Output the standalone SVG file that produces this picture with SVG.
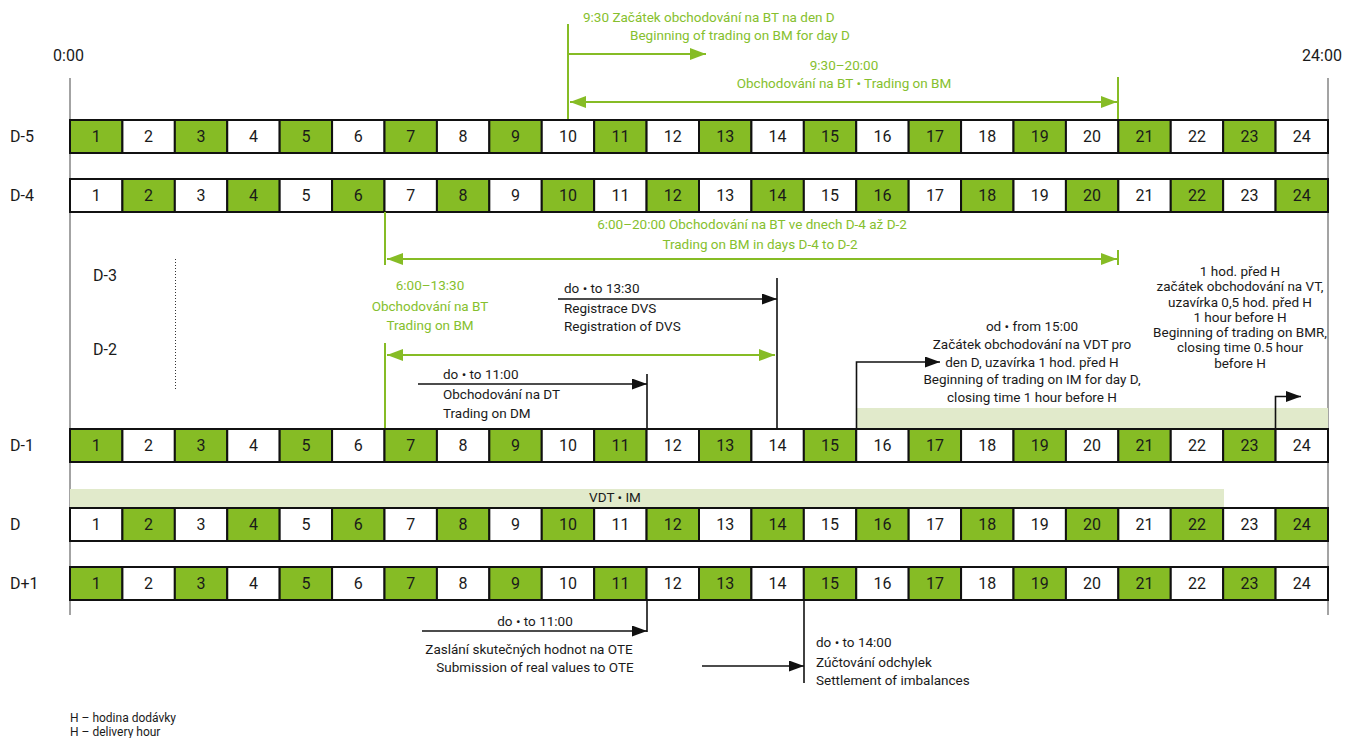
<svg xmlns="http://www.w3.org/2000/svg" width="1348" height="738" viewBox="0 0 1348 738">
<style>
text{font-family:Roboto,"Liberation Sans",sans-serif;fill:#1a1a1a}
.n{font-size:16px;text-anchor:middle}
.lbl{font-size:16px}
.a{font-size:13.5px}
.m{text-anchor:middle}
.gt{fill:#86bf2e}
.cg{fill:#86bc25;stroke:#111;stroke-width:2}
.cw{fill:#fff;stroke:#111;stroke-width:2}
.gl{stroke:#86bc25;stroke-width:2;fill:none}
.bl{stroke:#111;stroke-width:1.6;fill:none}
.ax{stroke:#666;stroke-width:1.2}
</style>
<defs>
<marker id="ag" markerUnits="userSpaceOnUse" markerWidth="18" markerHeight="12" refX="16" refY="6" orient="auto-start-reverse"><path d="M0,0 L16,6 L0,12 Z" fill="#86bc25"/></marker>
<marker id="ab" markerUnits="userSpaceOnUse" markerWidth="17" markerHeight="11" refX="15" refY="5.5" orient="auto-start-reverse"><path d="M0,0 L15,5.5 L0,11 Z" fill="#111"/></marker>
</defs>
<rect width="1348" height="738" fill="#fff"/>
<g id="axes">
<line class="ax" x1="70" y1="78" x2="70" y2="615"/>
<line class="ax" x1="1328" y1="78" x2="1328" y2="615"/>
<line x1="175.5" y1="259" x2="175.5" y2="390" stroke="#333" stroke-width="1" stroke-dasharray="1,2"/>
<text class="lbl m" x="68.5" y="61">0:00</text>
<text class="lbl m" x="1322" y="61">24:00</text>
</g>
<g id="bands">
<rect x="857" y="408" width="471" height="20" fill="#e1eacb"/>
<rect x="70" y="489" width="1154" height="19" fill="#e1eacb"/>
<text class="a m" x="615" y="501.5">VDT • IM</text>
</g>
<g id="row-D-5">
<text class="lbl" x="10" y="142">D-5</text>
<rect class="cg" x="70" y="120" width="52.42" height="33"/><rect class="cw" x="122.42" y="120" width="52.42" height="33"/><rect class="cg" x="174.83" y="120" width="52.42" height="33"/><rect class="cw" x="227.25" y="120" width="52.42" height="33"/><rect class="cg" x="279.67" y="120" width="52.42" height="33"/><rect class="cw" x="332.08" y="120" width="52.42" height="33"/><rect class="cg" x="384.5" y="120" width="52.42" height="33"/><rect class="cw" x="436.92" y="120" width="52.42" height="33"/><rect class="cg" x="489.33" y="120" width="52.42" height="33"/><rect class="cw" x="541.75" y="120" width="52.42" height="33"/><rect class="cg" x="594.17" y="120" width="52.42" height="33"/><rect class="cw" x="646.58" y="120" width="52.42" height="33"/><rect class="cg" x="699" y="120" width="52.42" height="33"/><rect class="cw" x="751.42" y="120" width="52.42" height="33"/><rect class="cg" x="803.83" y="120" width="52.42" height="33"/><rect class="cw" x="856.25" y="120" width="52.42" height="33"/><rect class="cg" x="908.67" y="120" width="52.42" height="33"/><rect class="cw" x="961.08" y="120" width="52.42" height="33"/><rect class="cg" x="1013.5" y="120" width="52.42" height="33"/><rect class="cw" x="1065.92" y="120" width="52.42" height="33"/><rect class="cg" x="1118.33" y="120" width="52.42" height="33"/><rect class="cw" x="1170.75" y="120" width="52.42" height="33"/><rect class="cg" x="1223.17" y="120" width="52.42" height="33"/><rect class="cw" x="1275.58" y="120" width="52.42" height="33"/>
<text class="n" x="96.2" y="142">1</text><text class="n" x="148.6" y="142">2</text><text class="n" x="201" y="142">3</text><text class="n" x="253.5" y="142">4</text><text class="n" x="305.9" y="142">5</text><text class="n" x="358.3" y="142">6</text><text class="n" x="410.7" y="142">7</text><text class="n" x="463.1" y="142">8</text><text class="n" x="515.5" y="142">9</text><text class="n" x="568" y="142">10</text><text class="n" x="620.4" y="142">11</text><text class="n" x="672.8" y="142">12</text><text class="n" x="725.2" y="142">13</text><text class="n" x="777.6" y="142">14</text><text class="n" x="830" y="142">15</text><text class="n" x="882.5" y="142">16</text><text class="n" x="934.9" y="142">17</text><text class="n" x="987.3" y="142">18</text><text class="n" x="1039.7" y="142">19</text><text class="n" x="1092.1" y="142">20</text><text class="n" x="1144.5" y="142">21</text><text class="n" x="1197" y="142">22</text><text class="n" x="1249.4" y="142">23</text><text class="n" x="1301.8" y="142">24</text>
</g>
<g id="row-D-4">
<text class="lbl" x="10" y="201">D-4</text>
<rect class="cw" x="70" y="179" width="52.42" height="33"/><rect class="cg" x="122.42" y="179" width="52.42" height="33"/><rect class="cw" x="174.83" y="179" width="52.42" height="33"/><rect class="cg" x="227.25" y="179" width="52.42" height="33"/><rect class="cw" x="279.67" y="179" width="52.42" height="33"/><rect class="cg" x="332.08" y="179" width="52.42" height="33"/><rect class="cw" x="384.5" y="179" width="52.42" height="33"/><rect class="cg" x="436.92" y="179" width="52.42" height="33"/><rect class="cw" x="489.33" y="179" width="52.42" height="33"/><rect class="cg" x="541.75" y="179" width="52.42" height="33"/><rect class="cw" x="594.17" y="179" width="52.42" height="33"/><rect class="cg" x="646.58" y="179" width="52.42" height="33"/><rect class="cw" x="699" y="179" width="52.42" height="33"/><rect class="cg" x="751.42" y="179" width="52.42" height="33"/><rect class="cw" x="803.83" y="179" width="52.42" height="33"/><rect class="cg" x="856.25" y="179" width="52.42" height="33"/><rect class="cw" x="908.67" y="179" width="52.42" height="33"/><rect class="cg" x="961.08" y="179" width="52.42" height="33"/><rect class="cw" x="1013.5" y="179" width="52.42" height="33"/><rect class="cg" x="1065.92" y="179" width="52.42" height="33"/><rect class="cw" x="1118.33" y="179" width="52.42" height="33"/><rect class="cg" x="1170.75" y="179" width="52.42" height="33"/><rect class="cw" x="1223.17" y="179" width="52.42" height="33"/><rect class="cg" x="1275.58" y="179" width="52.42" height="33"/>
<text class="n" x="96.2" y="201">1</text><text class="n" x="148.6" y="201">2</text><text class="n" x="201" y="201">3</text><text class="n" x="253.5" y="201">4</text><text class="n" x="305.9" y="201">5</text><text class="n" x="358.3" y="201">6</text><text class="n" x="410.7" y="201">7</text><text class="n" x="463.1" y="201">8</text><text class="n" x="515.5" y="201">9</text><text class="n" x="568" y="201">10</text><text class="n" x="620.4" y="201">11</text><text class="n" x="672.8" y="201">12</text><text class="n" x="725.2" y="201">13</text><text class="n" x="777.6" y="201">14</text><text class="n" x="830" y="201">15</text><text class="n" x="882.5" y="201">16</text><text class="n" x="934.9" y="201">17</text><text class="n" x="987.3" y="201">18</text><text class="n" x="1039.7" y="201">19</text><text class="n" x="1092.1" y="201">20</text><text class="n" x="1144.5" y="201">21</text><text class="n" x="1197" y="201">22</text><text class="n" x="1249.4" y="201">23</text><text class="n" x="1301.8" y="201">24</text>
</g>
<g id="labels-D-3-D-2">
<text class="lbl" x="93" y="281">D-3</text>
<text class="lbl" x="93" y="355">D-2</text>
</g>
<g id="row-D-1">
<text class="lbl" x="10" y="451">D-1</text>
<rect class="cg" x="70" y="429" width="52.42" height="33"/><rect class="cw" x="122.42" y="429" width="52.42" height="33"/><rect class="cg" x="174.83" y="429" width="52.42" height="33"/><rect class="cw" x="227.25" y="429" width="52.42" height="33"/><rect class="cg" x="279.67" y="429" width="52.42" height="33"/><rect class="cw" x="332.08" y="429" width="52.42" height="33"/><rect class="cg" x="384.5" y="429" width="52.42" height="33"/><rect class="cw" x="436.92" y="429" width="52.42" height="33"/><rect class="cg" x="489.33" y="429" width="52.42" height="33"/><rect class="cw" x="541.75" y="429" width="52.42" height="33"/><rect class="cg" x="594.17" y="429" width="52.42" height="33"/><rect class="cw" x="646.58" y="429" width="52.42" height="33"/><rect class="cg" x="699" y="429" width="52.42" height="33"/><rect class="cw" x="751.42" y="429" width="52.42" height="33"/><rect class="cg" x="803.83" y="429" width="52.42" height="33"/><rect class="cw" x="856.25" y="429" width="52.42" height="33"/><rect class="cg" x="908.67" y="429" width="52.42" height="33"/><rect class="cw" x="961.08" y="429" width="52.42" height="33"/><rect class="cg" x="1013.5" y="429" width="52.42" height="33"/><rect class="cw" x="1065.92" y="429" width="52.42" height="33"/><rect class="cg" x="1118.33" y="429" width="52.42" height="33"/><rect class="cw" x="1170.75" y="429" width="52.42" height="33"/><rect class="cg" x="1223.17" y="429" width="52.42" height="33"/><rect class="cw" x="1275.58" y="429" width="52.42" height="33"/>
<text class="n" x="96.2" y="451">1</text><text class="n" x="148.6" y="451">2</text><text class="n" x="201" y="451">3</text><text class="n" x="253.5" y="451">4</text><text class="n" x="305.9" y="451">5</text><text class="n" x="358.3" y="451">6</text><text class="n" x="410.7" y="451">7</text><text class="n" x="463.1" y="451">8</text><text class="n" x="515.5" y="451">9</text><text class="n" x="568" y="451">10</text><text class="n" x="620.4" y="451">11</text><text class="n" x="672.8" y="451">12</text><text class="n" x="725.2" y="451">13</text><text class="n" x="777.6" y="451">14</text><text class="n" x="830" y="451">15</text><text class="n" x="882.5" y="451">16</text><text class="n" x="934.9" y="451">17</text><text class="n" x="987.3" y="451">18</text><text class="n" x="1039.7" y="451">19</text><text class="n" x="1092.1" y="451">20</text><text class="n" x="1144.5" y="451">21</text><text class="n" x="1197" y="451">22</text><text class="n" x="1249.4" y="451">23</text><text class="n" x="1301.8" y="451">24</text>
</g>
<g id="row-D">
<text class="lbl" x="10" y="530">D</text>
<rect class="cw" x="70" y="508" width="52.42" height="33"/><rect class="cg" x="122.42" y="508" width="52.42" height="33"/><rect class="cw" x="174.83" y="508" width="52.42" height="33"/><rect class="cg" x="227.25" y="508" width="52.42" height="33"/><rect class="cw" x="279.67" y="508" width="52.42" height="33"/><rect class="cg" x="332.08" y="508" width="52.42" height="33"/><rect class="cw" x="384.5" y="508" width="52.42" height="33"/><rect class="cg" x="436.92" y="508" width="52.42" height="33"/><rect class="cw" x="489.33" y="508" width="52.42" height="33"/><rect class="cg" x="541.75" y="508" width="52.42" height="33"/><rect class="cw" x="594.17" y="508" width="52.42" height="33"/><rect class="cg" x="646.58" y="508" width="52.42" height="33"/><rect class="cw" x="699" y="508" width="52.42" height="33"/><rect class="cg" x="751.42" y="508" width="52.42" height="33"/><rect class="cw" x="803.83" y="508" width="52.42" height="33"/><rect class="cg" x="856.25" y="508" width="52.42" height="33"/><rect class="cw" x="908.67" y="508" width="52.42" height="33"/><rect class="cg" x="961.08" y="508" width="52.42" height="33"/><rect class="cw" x="1013.5" y="508" width="52.42" height="33"/><rect class="cg" x="1065.92" y="508" width="52.42" height="33"/><rect class="cw" x="1118.33" y="508" width="52.42" height="33"/><rect class="cg" x="1170.75" y="508" width="52.42" height="33"/><rect class="cw" x="1223.17" y="508" width="52.42" height="33"/><rect class="cg" x="1275.58" y="508" width="52.42" height="33"/>
<text class="n" x="96.2" y="530">1</text><text class="n" x="148.6" y="530">2</text><text class="n" x="201" y="530">3</text><text class="n" x="253.5" y="530">4</text><text class="n" x="305.9" y="530">5</text><text class="n" x="358.3" y="530">6</text><text class="n" x="410.7" y="530">7</text><text class="n" x="463.1" y="530">8</text><text class="n" x="515.5" y="530">9</text><text class="n" x="568" y="530">10</text><text class="n" x="620.4" y="530">11</text><text class="n" x="672.8" y="530">12</text><text class="n" x="725.2" y="530">13</text><text class="n" x="777.6" y="530">14</text><text class="n" x="830" y="530">15</text><text class="n" x="882.5" y="530">16</text><text class="n" x="934.9" y="530">17</text><text class="n" x="987.3" y="530">18</text><text class="n" x="1039.7" y="530">19</text><text class="n" x="1092.1" y="530">20</text><text class="n" x="1144.5" y="530">21</text><text class="n" x="1197" y="530">22</text><text class="n" x="1249.4" y="530">23</text><text class="n" x="1301.8" y="530">24</text>
</g>
<g id="row-D+1">
<text class="lbl" x="10" y="589">D+1</text>
<rect class="cg" x="70" y="567" width="52.42" height="33"/><rect class="cw" x="122.42" y="567" width="52.42" height="33"/><rect class="cg" x="174.83" y="567" width="52.42" height="33"/><rect class="cw" x="227.25" y="567" width="52.42" height="33"/><rect class="cg" x="279.67" y="567" width="52.42" height="33"/><rect class="cw" x="332.08" y="567" width="52.42" height="33"/><rect class="cg" x="384.5" y="567" width="52.42" height="33"/><rect class="cw" x="436.92" y="567" width="52.42" height="33"/><rect class="cg" x="489.33" y="567" width="52.42" height="33"/><rect class="cw" x="541.75" y="567" width="52.42" height="33"/><rect class="cg" x="594.17" y="567" width="52.42" height="33"/><rect class="cw" x="646.58" y="567" width="52.42" height="33"/><rect class="cg" x="699" y="567" width="52.42" height="33"/><rect class="cw" x="751.42" y="567" width="52.42" height="33"/><rect class="cg" x="803.83" y="567" width="52.42" height="33"/><rect class="cw" x="856.25" y="567" width="52.42" height="33"/><rect class="cg" x="908.67" y="567" width="52.42" height="33"/><rect class="cw" x="961.08" y="567" width="52.42" height="33"/><rect class="cg" x="1013.5" y="567" width="52.42" height="33"/><rect class="cw" x="1065.92" y="567" width="52.42" height="33"/><rect class="cg" x="1118.33" y="567" width="52.42" height="33"/><rect class="cw" x="1170.75" y="567" width="52.42" height="33"/><rect class="cg" x="1223.17" y="567" width="52.42" height="33"/><rect class="cw" x="1275.58" y="567" width="52.42" height="33"/>
<text class="n" x="96.2" y="589">1</text><text class="n" x="148.6" y="589">2</text><text class="n" x="201" y="589">3</text><text class="n" x="253.5" y="589">4</text><text class="n" x="305.9" y="589">5</text><text class="n" x="358.3" y="589">6</text><text class="n" x="410.7" y="589">7</text><text class="n" x="463.1" y="589">8</text><text class="n" x="515.5" y="589">9</text><text class="n" x="568" y="589">10</text><text class="n" x="620.4" y="589">11</text><text class="n" x="672.8" y="589">12</text><text class="n" x="725.2" y="589">13</text><text class="n" x="777.6" y="589">14</text><text class="n" x="830" y="589">15</text><text class="n" x="882.5" y="589">16</text><text class="n" x="934.9" y="589">17</text><text class="n" x="987.3" y="589">18</text><text class="n" x="1039.7" y="589">19</text><text class="n" x="1092.1" y="589">20</text><text class="n" x="1144.5" y="589">21</text><text class="n" x="1197" y="589">22</text><text class="n" x="1249.4" y="589">23</text><text class="n" x="1301.8" y="589">24</text>
</g>
<g id="connectors">
<line class="gl" x1="568" y1="24" x2="568" y2="119"/>
<line class="gl" x1="568" y1="54" x2="706" y2="54" marker-end="url(#ag)"/>
<line class="gl" x1="570" y1="102" x2="1117" y2="102" marker-start="url(#ag)" marker-end="url(#ag)"/>
<line class="gl" x1="1118" y1="77" x2="1118" y2="119"/>
<line class="gl" x1="385" y1="212" x2="385" y2="265"/>
<line class="gl" x1="387" y1="259" x2="1117" y2="259" marker-start="url(#ag)" marker-end="url(#ag)"/>
<line class="gl" x1="1118" y1="250" x2="1118" y2="265"/>
<line class="gl" x1="385" y1="343" x2="385" y2="428"/>
<line class="gl" x1="387" y1="355" x2="775" y2="355" marker-start="url(#ag)" marker-end="url(#ag)"/>
<line class="bl" x1="777" y1="278" x2="777" y2="428"/>
<line class="bl" x1="558" y1="299" x2="777" y2="299" marker-end="url(#ab)"/>
<line class="bl" x1="647" y1="374" x2="647" y2="428"/>
<line class="bl" x1="418" y1="384" x2="647" y2="384" marker-end="url(#ab)"/>
<path class="bl" d="M856.5,428 V362 H940" marker-end="url(#ab)"/>
<path class="bl" d="M1275.5,428 V396.5 H1301" marker-end="url(#ab)"/>
<line class="bl" x1="647" y1="600" x2="647" y2="632"/>
<line class="bl" x1="422" y1="631" x2="647" y2="631" marker-end="url(#ab)"/>
<line class="bl" x1="804" y1="600" x2="804" y2="683"/>
<line class="bl" x1="702" y1="666" x2="804" y2="666" marker-end="url(#ab)"/>
</g>
<g id="note-bt-day-d">
<text class="a gt" x="583" y="21.5">9:30 Začátek obchodování na BT na den D</text>
<text class="a gt" x="630" y="39.5">Beginning of trading on BM for day D</text>
</g>
<g id="note-bt-930-2000">
<text class="a gt m" x="844" y="70">9:30–20:00</text>
<text class="a gt m" x="844" y="88">Obchodování na BT • Trading on BM</text>
</g>
<g id="note-bt-d4-d2">
<text class="a gt m" x="752" y="229">6:00–20:00 Obchodování na BT ve dnech D-4 až D-2</text>
<text class="a gt m" x="760" y="248.5">Trading on BM in days D-4 to D-2</text>
</g>
<g id="note-bt-600-1330">
<text class="a gt m" x="430" y="290">6:00–13:30</text>
<text class="a gt m" x="430" y="311">Obchodování na BT</text>
<text class="a gt m" x="430" y="329.5">Trading on BM</text>
</g>
<g id="note-dvs">
<text class="a" x="564" y="292.5">do • to 13:30</text>
<text class="a" x="564" y="313">Registrace DVS</text>
<text class="a" x="564" y="331">Registration of DVS</text>
</g>
<g id="note-dt">
<text class="a" x="443" y="379">do • to 11:00</text>
<text class="a" x="443" y="398.5">Obchodování na DT</text>
<text class="a" x="443" y="417.5">Trading on DM</text>
</g>
<g id="note-vdt">
<text class="a m" x="1032" y="330.5">od • from 15:00</text>
<text class="a m" x="1032" y="348.5">Začátek obchodování na VDT pro</text>
<text class="a m" x="1032" y="366.5">den D, uzavírka 1 hod. před H</text>
<text class="a m" x="1032" y="383.5">Beginning of trading on IM for day D,</text>
<text class="a m" x="1032" y="401.5">closing time 1 hour before H</text>
</g>
<g id="note-vt">
<text class="a m" x="1240" y="275.5">1 hod. před H</text>
<text class="a m" x="1240" y="290.5">začátek obchodování na VT,</text>
<text class="a m" x="1240" y="306.5">uzavírka 0,5 hod. před H</text>
<text class="a m" x="1240" y="321.5">1 hour before H</text>
<text class="a m" x="1240" y="336.5">Beginning of trading on BMR,</text>
<text class="a m" x="1240" y="351.5">closing time 0.5 hour</text>
<text class="a m" x="1240" y="367.5">before H</text>
</g>
<g id="note-ote">
<text class="a m" x="535" y="626">do • to 11:00</text>
<text class="a m" x="529" y="653.5">Zaslání skutečných hodnot na OTE</text>
<text class="a m" x="535" y="671.5">Submission of real values to OTE</text>
</g>
<g id="note-settlement">
<text class="a" x="816" y="646.5">do • to 14:00</text>
<text class="a" x="816" y="666.5">Zúčtování odchylek</text>
<text class="a" x="816" y="685">Settlement of imbalances</text>
</g>
<g id="legend">
<text x="70" y="722" font-size="12">H – hodina dodávky</text>
<text x="70" y="736" font-size="12">H – delivery hour</text>
</g>
</svg>
